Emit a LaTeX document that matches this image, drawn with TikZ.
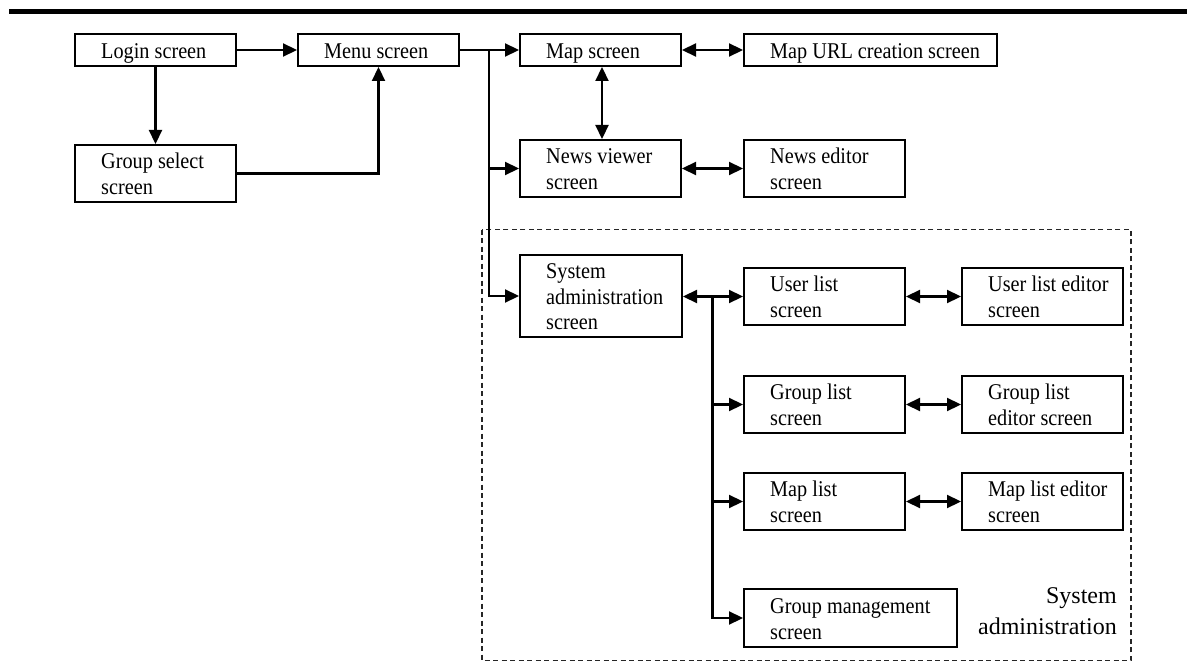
\documentclass[tikz,border=0pt]{standalone}
\usepackage{fontspec}
\setmainfont{Liberation Serif}[FakeStretch=0.9]
\newfontfamily\areafont{Liberation Serif}
\usetikzlibrary{arrows.meta,calc}

% a screen box given by its left, top, right and bottom edges
\newcommand\screenbox[5]{%
  \node[scrbox, minimum width={(#4-#2)*1bp}, minimum height={(#5-#3)*1bp}]
    (#1) at ({(#2+#4)/2},{(#3+#5)/2}) {};}
% the caption of a screen box: #2 lines, set flush left inside the box
\newcommand\screenlabel[3]{%
  \node[scrtext] (#1-t) at ($(#1.west)+(27,{-10-(#2-1)*12.85})$)
    {\rule{0pt}{18bp}#3};}

\begin{document}
\begin{tikzpicture}[x=1bp, y=-1bp,
  tip/.tip={Triangle[length=14bp,width=13bp]},
  scrbox/.style={draw=black, line width=2bp, inner sep=0pt, fill=white},
  scrtext/.style={anchor=north west, inner sep=0pt, align=left,
    font=\fontsize{22.5bp}{25.7bp}\selectfont},
  arr/.style={line width=2.2bp, -tip},
  dbl/.style={line width=2.2bp, tip-tip},
  group/.style={draw=black!85, line width=1.8bp, dash pattern=on 5bp off 3.5bp}]

\useasboundingbox (0,0) rectangle (1187,662);
\fill[white] (0,0) rectangle (1187,662);

% heading rule
\fill[black] (9,9) rectangle (1187,14.5);

% system administration area
\draw[group] (482,229.5) rectangle (1131,660.5);
\node[anchor=north east, inner sep=0pt, align=right,
  font=\areafont\fontsize{24bp}{31bp}\selectfont] (grouplabel) at (1117,584)
  {\rule{0pt}{19bp}System\\administration};

% screens
\screenbox{login}{75}{34}{236}{66}
\screenbox{menu}{298}{34}{459}{66}
\screenbox{map}{520}{34}{681}{66}
\screenbox{mapurl}{744}{34}{997}{66}
\screenbox{groupsel}{75}{145}{236}{202}
\screenbox{newsview}{520}{140}{681}{197}
\screenbox{newsedit}{744}{140}{905}{197}
\screenbox{sysadmin}{520}{255}{682}{337}
\screenbox{userlist}{744}{268}{905}{325}
\screenbox{useredit}{962}{268}{1123}{325}
\screenbox{grouplist}{744}{376}{905}{433}
\screenbox{groupedit}{962}{376}{1123}{433}
\screenbox{maplist}{744}{473}{905}{530}
\screenbox{mapedit}{962}{473}{1123}{530}
\screenbox{groupmgmt}{744}{589}{957}{647}

\screenlabel{login}{1}{Login screen}
\screenlabel{menu}{1}{Menu screen}
\screenlabel{map}{1}{Map screen}
\screenlabel{mapurl}{1}{Map URL creation screen}
\screenlabel{groupsel}{2}{Group select\\screen}
\screenlabel{newsview}{2}{News viewer\\screen}
\screenlabel{newsedit}{2}{News editor\\screen}
\screenlabel{sysadmin}{3}{System\\administration\\screen}
\screenlabel{userlist}{2}{User list\\screen}
\screenlabel{useredit}{2}{User list editor\\screen}
\screenlabel{grouplist}{2}{Group list\\screen}
\screenlabel{groupedit}{2}{Group list\\editor screen}
\screenlabel{maplist}{2}{Map list\\screen}
\screenlabel{mapedit}{2}{Map list editor\\screen}
\screenlabel{groupmgmt}{2}{Group management\\screen}

% branching points of the two buses
\coordinate (menubus) at (489,50);
\coordinate (adminbus) at (712.5,296.5);

% login flow
\draw[arr] (login.east) -- (menu.west);
\draw[arr] (login.south) -- (groupsel.north);
\draw[arr] (groupsel.east) -| (menu.south);

% menu branches
\draw[arr] (menu.east) -- (map.west);
\draw[arr] (menubus) |- (newsview.west);
\draw[arr] (menubus) |- (sysadmin.west);

% map and news screens
\draw[dbl] (map.east) -- (mapurl.west);
\draw[dbl] ([xshift=1.5bp]map.south) -- ([xshift=1.5bp]newsview.north);
\draw[dbl] (newsview.east) -- (newsedit.west);

% administration screens
\draw[dbl] (sysadmin.east |- adminbus) -- (userlist.west);
\draw[arr] (adminbus) |- (grouplist.west);
\draw[arr] (adminbus) |- (maplist.west);
\draw[arr] (adminbus) |- (groupmgmt.west);
\draw[dbl] (userlist.east) -- (useredit.west);
\draw[dbl] (grouplist.east) -- (groupedit.west);
\draw[dbl] (maplist.east) -- (mapedit.west);
\end{tikzpicture}
\end{document}
